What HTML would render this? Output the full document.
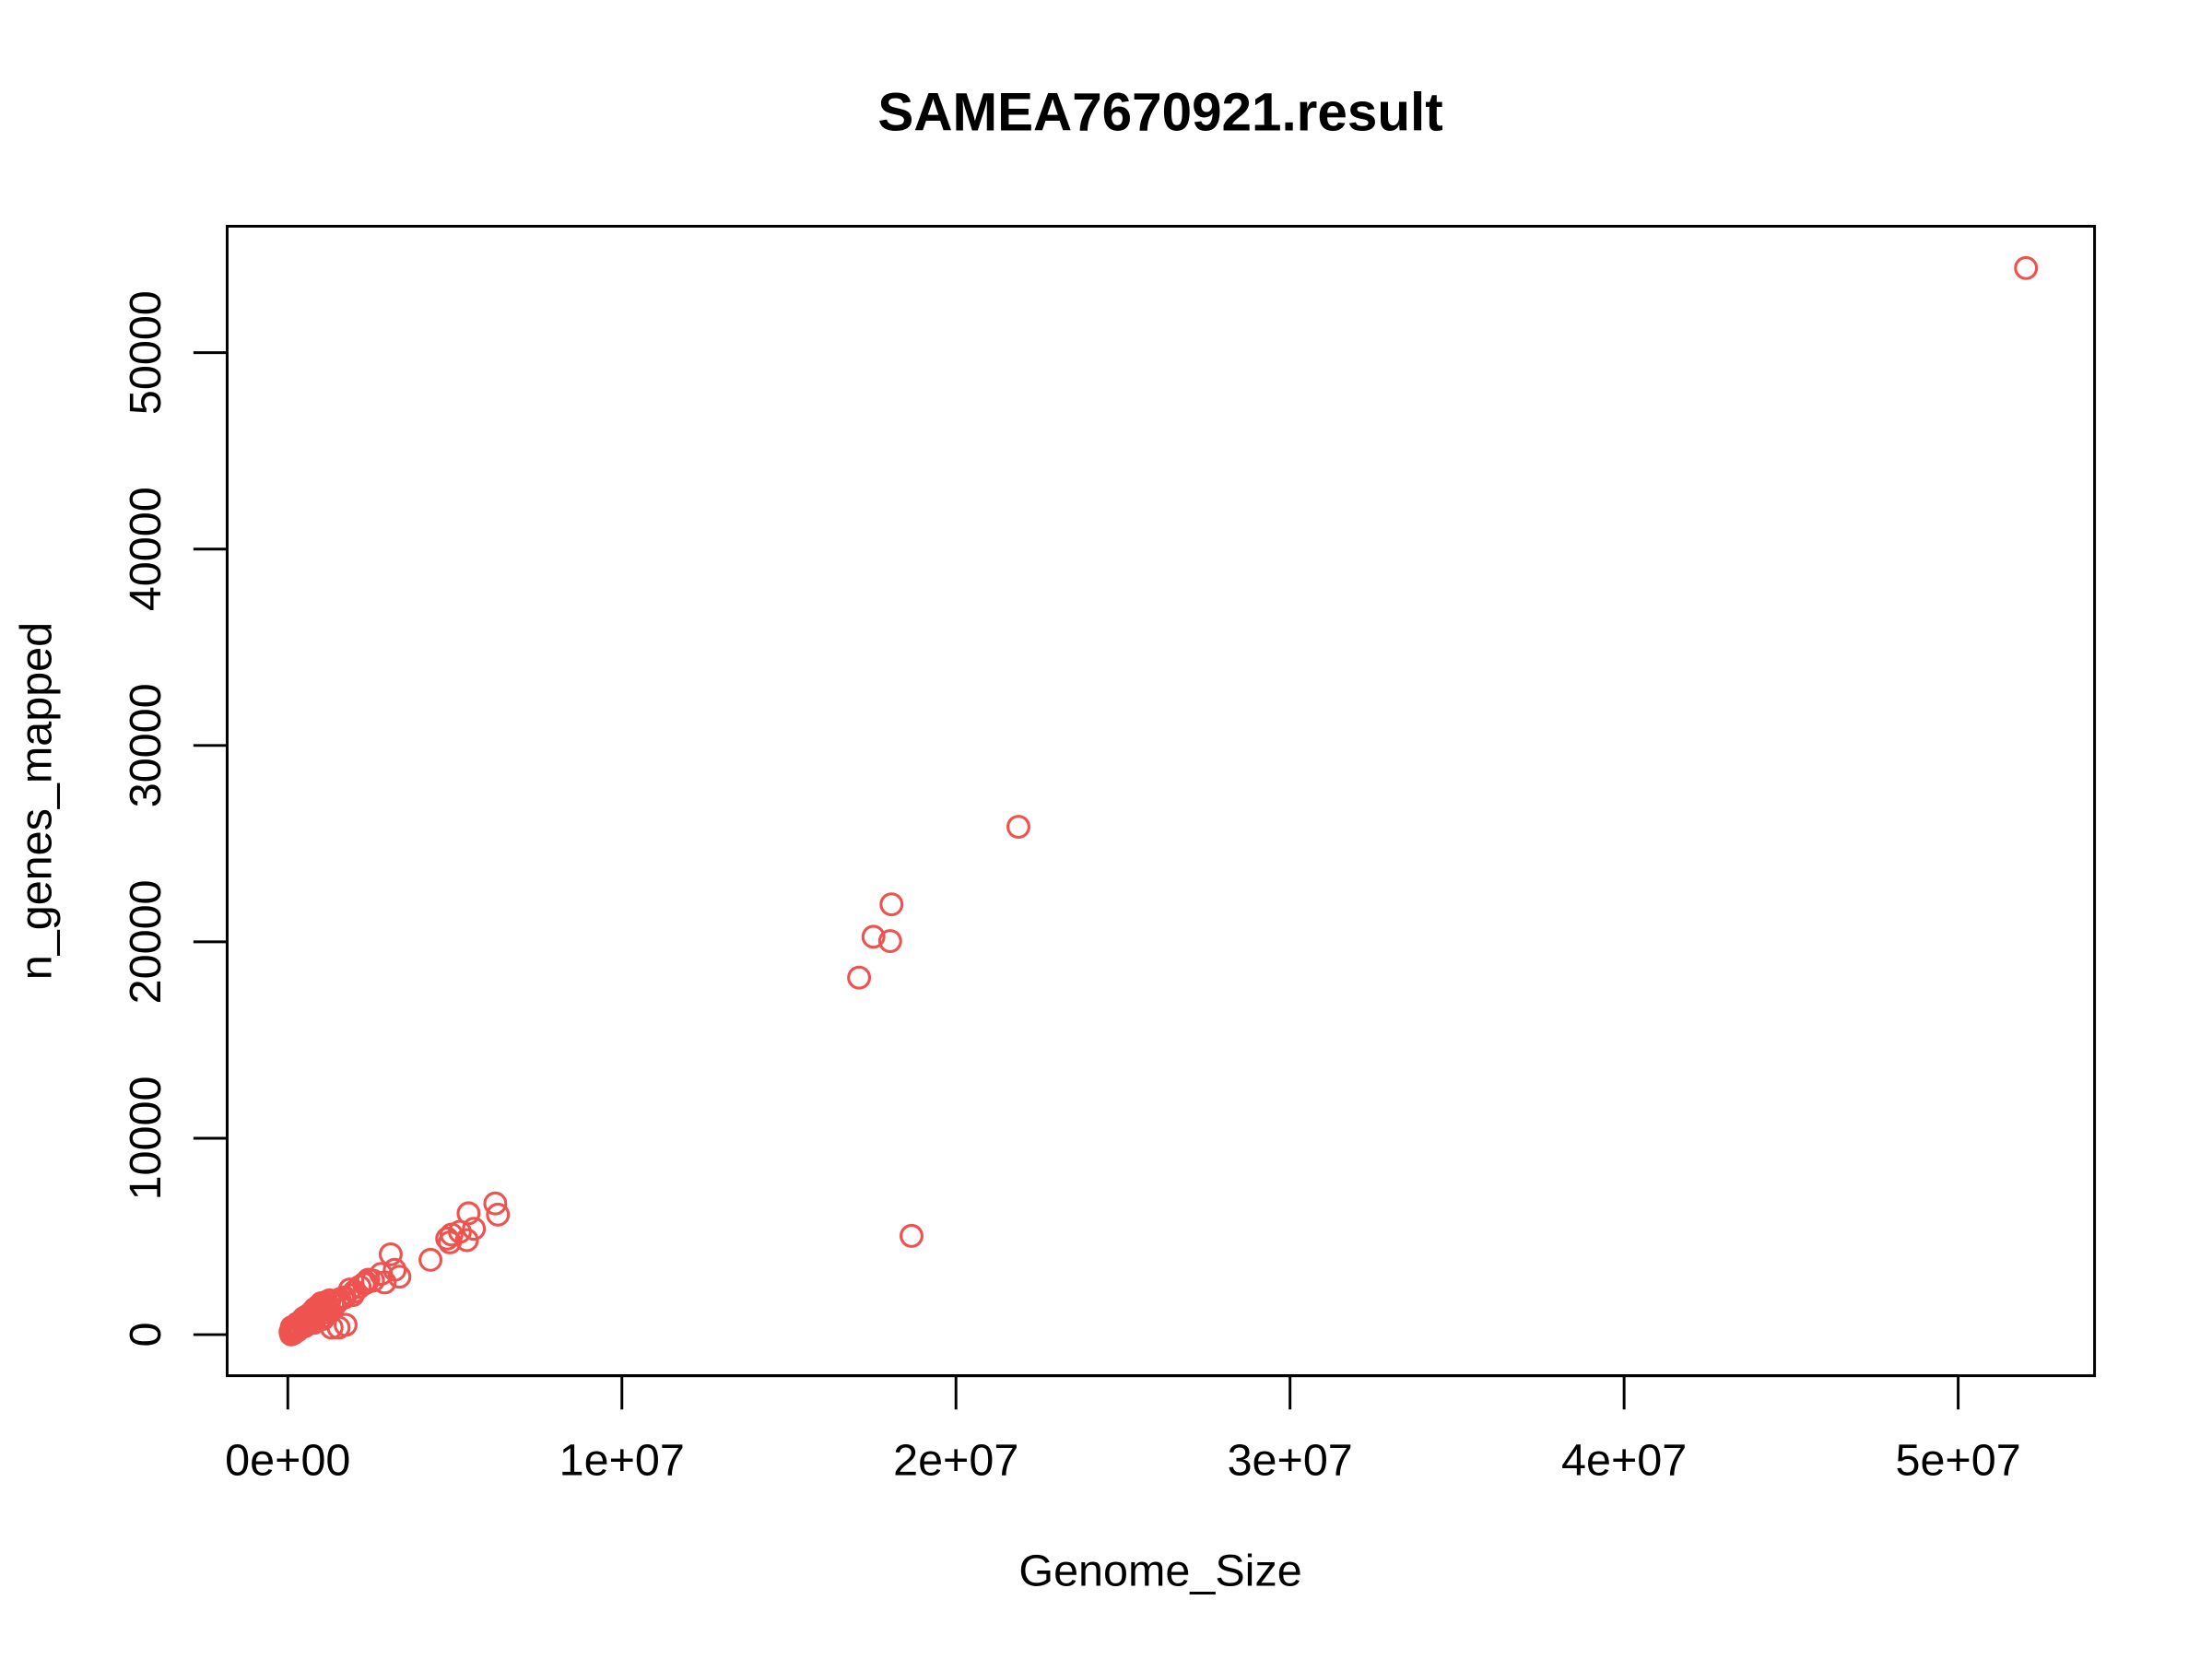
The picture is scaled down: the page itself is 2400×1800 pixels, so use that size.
<!DOCTYPE html>
<html><head><meta charset="utf-8"><style>
html,body{margin:0;padding:0;background:#fff}
svg{display:block;font-family:"Liberation Sans",Arial,sans-serif}
</style></head><body>
<svg id="chart" width="2400" height="1800" viewBox="0 0 2400 1800">
<rect x="0" y="0" width="2400" height="1800" fill="#fff"/>
<g transform="scale(0.9898)">
<text x="1272" y="143" font-size="59" font-weight="bold" text-anchor="middle">SAMEA7670921.result</text>
<rect x="249" y="248" width="2047" height="1260" fill="none" stroke="#000" stroke-width="3"/>
<g id="xaxis"></g>
<g id="yaxis"></g>
<g id="points"></g>
<text x="1272" y="1738" font-size="49" text-anchor="middle">Genome_Size</text>
<text transform="translate(56,878) rotate(-90)" font-size="49" text-anchor="middle">n_genes_mapped</text>
</g>
</svg>
<script>
const xTicks=[0,1e7,2e7,3e7,4e7,5e7];
const xTickLabels=["0e+00","1e+07","2e+07","3e+07","4e+07","5e+07"];
const yTicks=[0,10000,20000,30000,40000,50000];
const yTickLabels=["0","10000","20000","30000","40000","50000"];
const genomeSize=[52.03e6,21.87e6,18.07e6,17.53e6,18.03e6,17.10e6,18.67e6,6.21e6,6.29e6,5.41e6,5.57e6,5.36e6,5.15e6,4.90e6,4.77e6,4.85e6,4.27e6,3.08e6,3.34e6,3.2e6,2.79e6,2.9e6,
2.41e6,2.15e6,1.86e6,1.52e6,1.22e6,0.89e6,0.59e6,0.25e6,0.13e6,1.73e6,1.52e6,1.31e6,1.10e6,1.94e6,2.28e6,0.97e6,0.76e6,0.42e6,0.21e6,0.08e6,
0.34e6,0.51e6,0.68e6,0.84e6,1.06e6,1.18e6,1.35e6,1.65e6,1.01e6,0.63e6,0.38e6,0.17e6,0.30e6,0.45e6,0.72e6,0.95e6,
0.12e6,0.22e6,0.28e6,0.40e6,0.48e6,0.55e6,0.62e6,0.70e6,0.80e6,0.88e6,1.00e6,1.12e6,1.25e6,1.40e6,1.55e6,1.70e6,2.00e6,2.35e6,2.55e6,0.10e6,0.20e6,0.33e6,0.50e6,0.78e6,1.05e6];
const genesMapped=[54310,25860,21910,20260,20040,18180,5030,6680,6110,6180,5390,4810,5240,5100,4890,4700,3810,4090,2950,3300,3090,2660,
2800,2440,2300,1720,1510,1150,720,430,220,500,360,360,930,2010,2590,1360,930,570,290,140,
500,650,860,1220,1440,1290,1580,1870,1080,570,360,70,220,750,1000,1250,
380,450,560,700,850,920,990,1100,1300,1400,1600,1650,1750,1500,1800,1900,2200,2650,2750,10,110,330,420,600,800];
const NS="http://www.w3.org/2000/svg";
function xs(v){return 315.5+v*(2146.5-315.5)/5e7;}
function ys(v){return 1463-v*(1463-386.6)/50000;}
function mk(tag,attrs,parent){const e=document.createElementNS(NS,tag);for(const k in attrs)e.setAttribute(k,attrs[k]);parent.appendChild(e);return e;}
const xa=document.getElementById('xaxis'),ya=document.getElementById('yaxis'),pg=document.getElementById('points');
let l=mk('line',{x1:xs(xTicks[0]),x2:xs(xTicks[xTicks.length-1]),y1:1508,y2:1508,stroke:'#000','stroke-width':3},xa);


xTicks.forEach((t,i)=>{
  const tk=mk('line',{x1:xs(t),x2:xs(t),y1:1508,y2:1545,stroke:'#000','stroke-width':3},xa);
  
  
  const tx=mk('text',{x:xs(t),y:1617,'font-size':49,'text-anchor':'middle'},xa);
  tx.textContent=xTickLabels[i];
  
  
});
l=mk('line',{x1:249,x2:249,y1:ys(yTicks[0]),y2:ys(yTicks[yTicks.length-1]),stroke:'#000','stroke-width':3},ya);


yTicks.forEach((t,i)=>{
  const tk=mk('line',{x1:212,x2:249,y1:ys(t),y2:ys(t),stroke:'#000','stroke-width':3},ya);
  
  
  const tx=mk('text',{transform:`translate(176,${ys(t)}) rotate(-90)`,'font-size':49,'text-anchor':'middle'},ya);
  tx.textContent=yTickLabels[i];
  
  
});
genomeSize.forEach((g,i)=>{
  const c=mk('circle',{cx:xs(g),cy:ys(genesMapped[i]),r:11.5,fill:'none',stroke:'#ef5350','stroke-width':3.2},pg);
  
  
});
</script>
</body></html>
